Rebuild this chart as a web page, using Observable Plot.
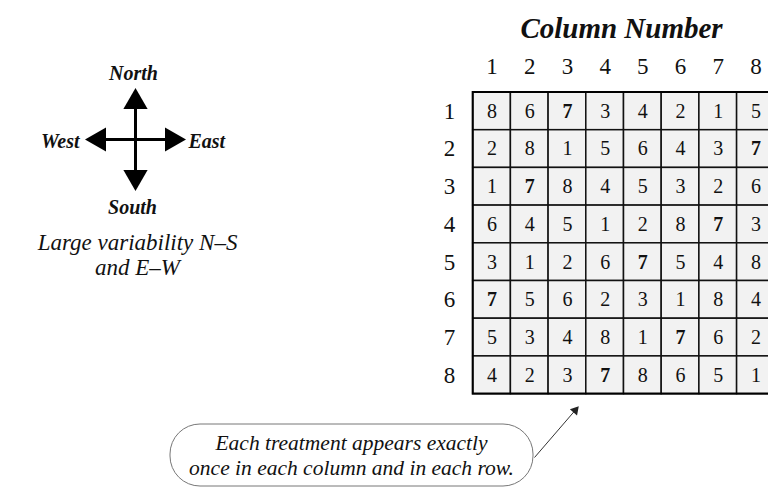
<!DOCTYPE html>
<html>
<head>
<meta charset="utf-8">
<script src="https://cdn.jsdelivr.net/npm/d3@7"></script>
<script src="https://cdn.jsdelivr.net/npm/@observablehq/plot@0.6"></script>
<style>
  html, body { margin: 0; padding: 0; background: #fff; overflow: hidden; }
  svg { display: block; }
</style>
</head>
<body>
<div id="chart"></div>
<script>
// ---- data ----
const columns = [1, 2, 3, 4, 5, 6, 7, 8];
const rows = [1, 2, 3, 4, 5, 6, 7, 8];
const row1 = [8, 6, 7, 3, 4, 2, 1, 5];
const row2 = [2, 8, 1, 5, 6, 4, 3, 7];
const row3 = [1, 7, 8, 4, 5, 3, 2, 6];
const row4 = [6, 4, 5, 1, 2, 8, 7, 3];
const row5 = [3, 1, 2, 6, 7, 5, 4, 8];
const row6 = [7, 5, 6, 2, 3, 1, 8, 4];
const row7 = [5, 3, 4, 8, 1, 7, 6, 2];
const row8 = [4, 2, 3, 7, 8, 6, 5, 1];
const highlighted = 7;
const title = "Column Number";
const directions = ["North", "East", "South", "West"];
const noteLines = ["Large variability N\u2013S", "and E\u2013W"];
const calloutLines = ["Each treatment appears exactly", "once in each column and in each row."];

// ---- build table ----
const square = [row1, row2, row3, row4, row5, row6, row7, row8];
const cells = [];
rows.forEach((r, i) => columns.forEach((c, j) => cells.push({row: r, col: c, value: square[i][j]})));

// ---- layout (pixel -> data unit helpers) ----
const W = 768, H = 488;
const cellPx = 37.7, gridLeft = 472.7, gridTop = 92;
const X = p => (p - gridLeft) / cellPx;
const Y = p => (p - gridTop) / cellPx;
const serif = "'Liberation Serif', 'DejaVu Serif', serif";

// compass geometry
const cx = 135, cy = 139, tipN = 88, tipS = 190, tipW = 85, tipE = 185;
const headOff = 13.5;
const heads = [
  {x: X(cx), y: Y(tipN + headOff), rot: 0},
  {x: X(tipE - headOff), y: Y(cy), rot: 90},
  {x: X(cx), y: Y(tipS - headOff), rot: 180},
  {x: X(tipW + headOff), y: Y(cy), rot: 270}
];
const dirStyle = {fontSize: 20, fontFamily: serif, fontWeight: "bold", fontStyle: "italic", fill: "#111"};

// callout arrow
const a0 = [534, 457], a1 = [578, 406];
const alen = Math.hypot(a1[0] - a0[0], a1[1] - a0[1]);
const ux = (a1[0] - a0[0]) / alen, uy = (a1[1] - a0[1]) / alen;
const arrowRot = Math.atan2(ux, -uy) * 180 / Math.PI;

const plot = Plot.plot({
  width: W, height: H,
  margin: 0,
  x: {type: "linear", domain: [X(0), X(W)], range: [0, W], axis: null},
  y: {type: "linear", domain: [Y(0), Y(H)], range: [0, H], axis: null},
  marks: [
    // grid cells
    Plot.rect(cells, {x1: d => d.col - 1, x2: d => d.col, y1: d => d.row - 1, y2: d => d.row,
      fill: "#f2f2f2", stroke: "#111", strokeWidth: 1.5}),
    Plot.rect([0], {x1: 0, x2: columns.length, y1: 0, y2: rows.length, fill: "none", stroke: "#000", strokeWidth: 2}),
    Plot.text(cells.filter(d => d.value !== highlighted), {x: d => d.col - 0.5, y: d => d.row - 0.5, text: d => String(d.value),
      fontSize: 20, fontFamily: serif, fill: "#111"}),
    Plot.text(cells.filter(d => d.value === highlighted), {x: d => d.col - 0.5, y: d => d.row - 0.5, text: d => String(d.value),
      fontSize: 20, fontFamily: serif, fontWeight: "bold", fill: "#111"}),
    // column labels
    Plot.text(columns, {x: d => d - 0.5, y: Y(66), text: d => String(d), fontSize: 23, fontFamily: serif, fill: "#111"}),
    // row labels
    Plot.text(rows, {x: X(449), y: d => d - 0.5, text: d => String(d), fontSize: 23, fontFamily: serif, fill: "#111"}),
    // title
    Plot.text([title], {x: X(621), y: Y(28), text: d => d, fontSize: 29, fontFamily: serif,
      fontWeight: "bold", fontStyle: "italic", fill: "#111"}),
    // compass shafts
    Plot.link([0], {x1: X(cx), y1: Y(tipN + 15), x2: X(cx), y2: Y(tipS - 15), stroke: "#000", strokeWidth: 3}),
    Plot.link([0], {x1: X(tipW + 15), y1: Y(cy), x2: X(tipE - 15), y2: Y(cy), stroke: "#000", strokeWidth: 3}),
    // compass heads
    Plot.dot(heads, {x: "x", y: "y", rotate: "rot", symbol: "triangle", r: 9, fill: "#000", stroke: "none"}),
    // direction labels
    Plot.text([directions[0]], {x: X(133), y: Y(73), text: d => d, ...dirStyle}),
    Plot.text([directions[1]], {x: X(188), y: Y(141), text: d => d, textAnchor: "start", ...dirStyle}),
    Plot.text([directions[2]], {x: X(132), y: Y(207), text: d => d, ...dirStyle}),
    Plot.text([directions[3]], {x: X(79), y: Y(141), text: d => d, textAnchor: "end", ...dirStyle}),
    // note
    Plot.text(noteLines, {x: X(137), y: (d, i) => Y(242 + i * 25), text: d => d, fontSize: 23, fontFamily: serif,
      fontStyle: "italic", fill: "#111"}),
    // callout box
    Plot.rect([0], {x1: X(170), x2: X(533), y1: Y(424), y2: Y(486), rx: 30, fill: "none",
      stroke: "#777", strokeWidth: 1}),
    Plot.text(calloutLines, {x: X(351), y: (d, i) => Y(443 + i * 25), text: d => d, fontSize: 21.5, fontFamily: serif,
      fontStyle: "italic", fill: "#111"}),
    Plot.link([0], {x1: X(a0[0]), y1: Y(a0[1]), x2: X(a1[0] - ux * 5), y2: Y(a1[1] - uy * 5), stroke: "#333", strokeWidth: 1}),
    Plot.dot([0], {x: X(a1[0] - ux * 5), y: Y(a1[1] - uy * 5), rotate: arrowRot, symbol: "triangle", r: 3.5, fill: "#222", stroke: "none"})
  ]
});
document.getElementById("chart").appendChild(plot);
</script>
</body>
</html>
